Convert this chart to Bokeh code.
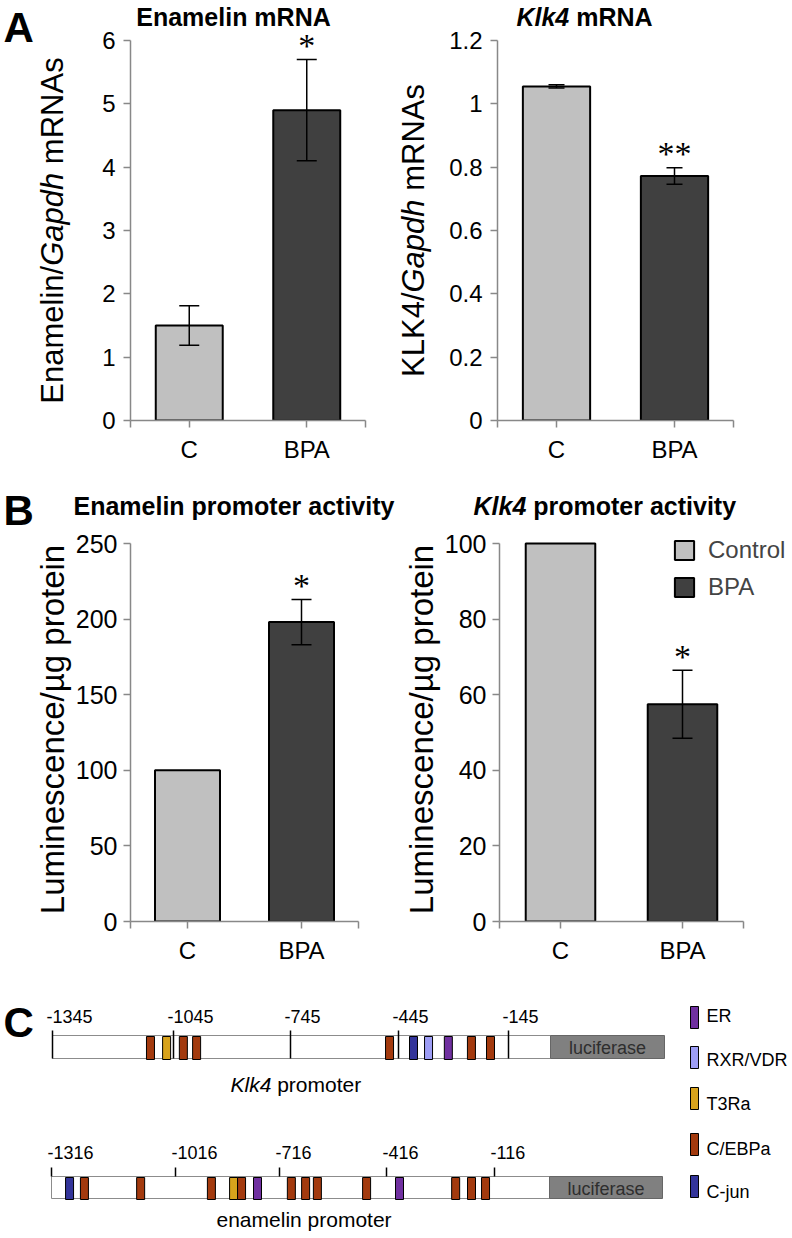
import numpy as np
from bokeh.plotting import figure
from bokeh.models import (Range1d, FixedTicker, Label, LabelSet, Whisker, TeeHead,
                          ColumnDataSource, Legend, LegendItem, NumeralTickFormatter)
from bokeh.layouts import row, column
from bokeh.embed import file_html
from bokeh.resources import INLINE
from bokeh.core.properties import value

FONT = "Liberation Sans"
MID = 0.35  # distance (em) from alphabetic baseline to em-middle

# ---------------- data ----------------
groups = ["C", "BPA"]
legend_labels = ["Control", "BPA"]
bar_colors = ["#c0c0c0", "#404040"]

enam_mrna = [1.5, 4.9]
enam_mrna_err = [0.31, 0.80]
enam_mrna_sig = ["", "*"]
enam_mrna_ticks = [0, 1, 2, 3, 4, 5, 6]

klk4_mrna = [1.055, 0.772]
klk4_mrna_err = [0.005, 0.026]
klk4_mrna_sig = ["", "**"]
klk4_mrna_ticks = [0, 0.2, 0.4, 0.6, 0.8, 1.0, 1.2]

enam_prom = [100, 198]
enam_prom_err = [0, 15]
enam_prom_sig = ["", "*"]
enam_prom_ticks = [0, 50, 100, 150, 200, 250]

klk4_prom = [100, 57.5]
klk4_prom_err = [0, 9]
klk4_prom_sig = ["", "*"]
klk4_prom_ticks = [0, 20, 40, 60, 80, 100]

# panel C (positions in bp upstream)
klk4_tick_bp = [-1345, -1045, -745, -445, -145]
klk4_site_bp = [-1112, -1072, -1030, -996, -481, -415, -374, -320, -257, -205]
klk4_site_type = ["C/EBPa", "T3Ra", "C/EBPa", "C/EBPa", "C/EBPa", "C-jun",
                  "RXR/VDR", "ER", "C/EBPa", "C/EBPa"]
enam_tick_bp = [-1316, -1016, -716, -416, -116]
enam_site_bp = [-1282, -1246, -1110, -924, -860, -837, -791, -694, -654, -621,
                -483, -391, -235, -191, -152]
enam_site_type = ["C-jun", "C/EBPa", "C/EBPa", "C/EBPa", "T3Ra", "C/EBPa", "ER",
                  "C/EBPa", "C/EBPa", "C/EBPa", "C/EBPa", "ER", "C/EBPa", "C/EBPa",
                  "C/EBPa"]
site_labels = ["ER", "RXR/VDR", "T3Ra", "C/EBPa", "C-jun"]
site_colors = ["#7030a0", "#9d9df5", "#d8a31c", "#a33a0e", "#33349a"]

# ---------------- text metrics (Arial / Liberation Sans) ----------------
REG = {' ': 278, '/': 278, '-': 333, '.': 278, 'A': 667, 'B': 667, 'C': 722, 'D': 722,
       'E': 667, 'G': 778, 'K': 667, 'L': 556, 'N': 722, 'P': 667, 'R': 722, 'V': 667,
       'X': 667, 'a': 556, 'c': 500, 'd': 556, 'e': 556, 'g': 556, 'h': 556, 'i': 222,
       'j': 222, 'k': 500, 'l': 222, 'm': 833, 'n': 556, 'o': 556, 'p': 556, 'r': 333,
       's': 500, 't': 278, 'u': 556, 'v': 500, 'y': 500, '\u00b5': 577}
BOLD = {' ': 278, 'A': 722, 'E': 667, 'K': 722, 'N': 722, 'R': 722, 'a': 556, 'c': 556,
        'e': 556, 'i': 278, 'k': 556, 'l': 278, 'm': 889, 'n': 611, 'o': 611, 'p': 611,
        'r': 389, 't': 333, 'v': 556, 'y': 556}


def tw(s, size, bold=False):
    t = BOLD if bold else REG
    return sum(t.get(ch, 556) for ch in s) * size / 1000.0


def total_w(pieces, size):
    return sum(tw(t, size, "bold" in s) for t, s in pieces)


def ident(rx, ry):
    return rx, ry


def add_pieces(p, conv, x, y, pieces, size, rotated=False):
    """Place text pieces (text, style); (x, y) = start of the baseline in reference px."""
    off = 0.0
    for txt, style in pieces:
        bold = "bold" in style
        lead = len(txt) - len(txt.lstrip(" "))
        off += tw(" " * lead, size, bold)
        txt = txt.lstrip(" ")
        if rotated:
            rx, ry = x - MID * size, y - off
        else:
            rx, ry = x + off, y - MID * size
        dx, dy = conv(rx, ry)
        p.add_layout(Label(x=dx, y=dy, text=txt, text_font=FONT,
                           text_font_size=f"{size}px", text_font_style=style,
                           angle=(np.pi / 2 if rotated else 0.0), text_align="left",
                           text_baseline="middle", text_color="black"))
        off += tw(txt, size, bold)


def strip(x0, x1, y0, y1):
    p = figure(frame_width=x1 - x0, frame_height=y1 - y0, min_border=0,
               x_range=Range1d(x0, x1), y_range=Range1d(y1, y0),
               output_backend="svg", toolbar_location=None,
               x_axis_location=None, y_axis_location=None)
    p.outline_line_color = None
    p.grid.visible = False
    return p


def bar_panel(vals, errs, sigs, yticks, fig_x0, fig_x1, fig_y0, fig_y1,
              ax_x, xend_px, ax_y, ytop_px, head, ytick_size, xtick_size,
              ystandoff=8, fmt=None):
    ymax = yticks[-1]
    bl = ax_x - fig_x0
    fw = fig_x1 - ax_x
    fh = ax_y - fig_y0
    bb = fig_y1 - ax_y
    ppx = (xend_px - ax_x) / 2.0
    ppy = (ax_y - ytop_px) / ymax
    p = figure(frame_width=fw, frame_height=fh, min_border_left=bl, min_border_right=0,
               min_border_top=0, min_border_bottom=bb,
               x_range=Range1d(0, fw / ppx), y_range=Range1d(0, fh / ppy),
               output_backend="svg", toolbar_location=None)
    xs = [0.5, 1.5]
    src = ColumnDataSource(dict(x=xs, top=vals, color=bar_colors))
    r = p.vbar(x="x", top="top", bottom=0, width=0.57, source=src,
               fill_color="color", line_color="black", line_width=2)
    wx = [x for x, e in zip(xs, errs) if e > 0]
    wu = [v + e for v, e in zip(vals, errs) if e > 0]
    wl = [v - e for v, e in zip(vals, errs) if e > 0]
    wsrc = ColumnDataSource(dict(x=wx, upper=wu, lower=wl))
    p.add_layout(Whisker(source=wsrc, base="x", upper="upper", lower="lower",
                         line_color="black", line_width=1.5, level="annotation",
                         upper_head=TeeHead(size=head, line_color="black", line_width=1.5),
                         lower_head=TeeHead(size=head, line_color="black", line_width=1.5)))
    ssrc = ColumnDataSource(dict(x=xs, y=[v + e for v, e in zip(vals, errs)], t=sigs))
    p.add_layout(LabelSet(x="x", y="y", text="t", source=ssrc, text_font=FONT,
                          text_font_size="34px", text_align="center",
                          text_baseline="middle", y_offset=14, text_color="black"))
    p.xgrid.visible = False
    p.ygrid.visible = False
    p.outline_line_color = None
    for ax, size in ((p.xaxis[0], xtick_size), (p.yaxis[0], ytick_size)):
        ax.axis_line_color = "#888888"
        ax.axis_line_width = 1.5
        ax.major_tick_line_color = "#888888"
        ax.major_tick_line_width = 1.5
        ax.major_tick_out = 7
        ax.major_tick_in = 0
        ax.minor_tick_line_color = None
        ax.major_label_text_font = FONT
        ax.major_label_text_font_size = f"{size}px"
        ax.major_label_text_color = "black"
        ax.major_label_standoff = 8
    p.yaxis.major_label_standoff = ystandoff
    p.xaxis.bounds = (0, 2)
    p.yaxis.bounds = (0, ymax)
    p.xaxis.ticker = FixedTicker(ticks=[0, 0.5, 1.5, 2])
    p.xaxis.major_label_overrides = {0: "", 0.5: groups[0], 1.5: groups[1], 2: ""}
    p.yaxis.ticker = FixedTicker(ticks=yticks)
    if fmt is not None:
        p.yaxis.formatter = NumeralTickFormatter(format=fmt)

    def conv(rx, ry):
        return (rx - ax_x) / ppx, (ax_y - ry) / ppy
    return p, r, conv


TITLE = 25
YL = 31
YLB = 33
TICK = 24
TICKB = 25

# ================= Row A (y 0..488) =================
la1 = strip(0, 72, 0, 488)
add_pieces(la1, ident, 3, 42, [("A", "bold")], 42)
yl = [("Enamelin/", "normal"), ("Gapdh", "italic"), (" mRNAs", "normal")]
add_pieces(la1, ident, 63, 230 + total_w(yl, YL) / 2, yl, YL, rotated=True)

ba1, _, c1 = bar_panel(enam_mrna, enam_mrna_err, enam_mrna_sig, enam_mrna_ticks,
                       72, 390, 0, 488, 130, 365, 420, 40, 20, TICK, TICK)
t = [("Enamelin mRNA", "bold")]
add_pieces(ba1, c1, 233 - total_w(t, TITLE) / 2, 25, t, TITLE)

la2 = strip(390, 432, 0, 488)
yl = [("KLK4/", "normal"), ("Gapdh", "italic"), (" mRNAs", "normal")]
add_pieces(la2, ident, 424, 230 + total_w(yl, YL) / 2, yl, YL, rotated=True)

ba2, _, c2 = bar_panel(klk4_mrna, klk4_mrna_err, klk4_mrna_sig, klk4_mrna_ticks,
                       432, 792, 0, 488, 497, 733, 420, 40, 16, TICK, TICK,
                       fmt="0.[0]")
t = [("Klk4", "bold italic"), (" mRNA", "bold")]
add_pieces(ba2, c2, 584 - total_w(t, TITLE) / 2, 25, t, TITLE)

# ================= Row B (y 488..990) =================
ylb = [("Luminescence/\u00b5g protein", "normal")]
lb1 = strip(0, 72, 488, 990)
add_pieces(lb1, ident, 3, 525, [("B", "bold")], 42)
add_pieces(lb1, ident, 64, 729 + total_w(ylb, YLB) / 2, ylb, YLB, rotated=True)

tb = strip(72, 792, 488, 526)
add_pieces(tb, ident, 73, 514, [("Enamelin promoter activity", "bold")], TITLE)
add_pieces(tb, ident, 473, 514, [("Klk4", "bold italic"), (" promoter activity", "bold")], TITLE)

bb1, _, _ = bar_panel(enam_prom, enam_prom_err, enam_prom_sig, enam_prom_ticks,
                      72, 396, 526, 990, 130, 358, 921, 543, 20, TICKB, TICK,
                      ystandoff=6)

lb2 = strip(396, 441, 526, 990)
add_pieces(lb2, ident, 433, 729 + total_w(ylb, YLB) / 2, ylb, YLB, rotated=True)

bb2, rb2, _ = bar_panel(klk4_prom, klk4_prom_err, klk4_prom_sig, klk4_prom_ticks,
                        441, 792, 526, 990, 497, 741, 921, 543, 20, TICKB, TICK,
                        ystandoff=6)
leg = Legend(items=[LegendItem(label=legend_labels[i], renderers=[rb2], index=i)
                    for i in range(2)],
             location=(173, 320), glyph_width=24, glyph_height=24,
             label_text_font=FONT, label_text_font_size="24px", spacing=9,
             padding=0, margin=0, border_line_color=None, background_fill_alpha=0,
             label_standoff=12, label_height=24)
bb2.add_layout(leg)

# ================= Panel C (y 990..1236) =================
pc = strip(0, 792, 990, 1236)
color_of = dict(zip(site_labels, site_colors))
CT = 18  # panel C label size


def promoter(tick_bp, tick_x, site_bp, site_type, row_top, row_bot, tick_top,
             tick_bot, lab_base, lab_dx, luc_left, luc_right):
    n = len(tick_x)
    pc.quad(left=[tick_x[0]], right=[luc_left], top=[row_top], bottom=[row_bot],
            fill_color="white", line_color="#8c8c8c", line_width=1)
    pc.quad(left=[luc_left], right=[luc_right], top=[row_top], bottom=[row_bot],
            fill_color="#808080", line_color="#666666", line_width=1)
    pc.text(x=[(luc_left + luc_right) / 2], y=[(row_top + row_bot) / 2 + 1],
            text=["luciferase"], text_align="center", text_baseline="middle",
            text_font=value(FONT), text_font_size=f"{CT}px", text_color="#2e2e2e")
    pc.segment(x0=tick_x, x1=tick_x, y0=[tick_top] * n, y1=[tick_bot] * n,
               line_color="black", line_width=1.5)
    pc.text(x=[x + lab_dx for x in tick_x], y=[lab_base - MID * CT] * n,
            text=[str(b) for b in tick_bp], text_align="left",
            text_baseline="middle", text_font=value(FONT),
            text_font_size=f"{CT}px", text_color="black")
    sx = np.interp(site_bp, tick_bp, tick_x)
    pc.quad(left=sx, right=sx + 8, top=row_top + 1, bottom=row_bot + 1,
            fill_color=[color_of[s] for s in site_type], line_color="black",
            line_width=1)


promoter(klk4_tick_bp, [52, 173, 290, 398, 508], klk4_site_bp, klk4_site_type,
         1035, 1058, 1030, 1058, 1022, -6, 550, 664)
promoter(enam_tick_bp, [51, 175, 279, 386, 494], enam_site_bp, enam_site_type,
         1176, 1198, 1167, 1176, 1158, -4, 549, 662)

add_pieces(pc, ident, 3, 1037, [("C", "bold")], 42)
add_pieces(pc, ident, 230, 1091, [("Klk4", "italic"), (" promoter", "normal")], 21)
add_pieces(pc, ident, 216, 1226, [("enamelin promoter", "normal")], 21)

sw_top = [1006, 1046, 1087, 1133, 1175]
txt_base = [1022, 1066, 1110, 1155, 1198]
pc.quad(left=[690] * 5, right=[698] * 5, top=sw_top, bottom=[v + 22 for v in sw_top],
        fill_color=site_colors, line_color="black", line_width=1)
pc.text(x=[706] * 5, y=[b - MID * CT for b in txt_base], text=site_labels,
        text_align="left", text_baseline="middle", text_font=value(FONT),
        text_font_size=f"{CT}px", text_color="black")

row_b = row(lb1, column(tb, row(bb1, lb2, bb2, spacing=0), spacing=0), spacing=0)
layout = column(row(la1, ba1, la2, ba2, spacing=0), row_b, pc, spacing=0)
open("out.html", "w").write(file_html(layout, INLINE))
